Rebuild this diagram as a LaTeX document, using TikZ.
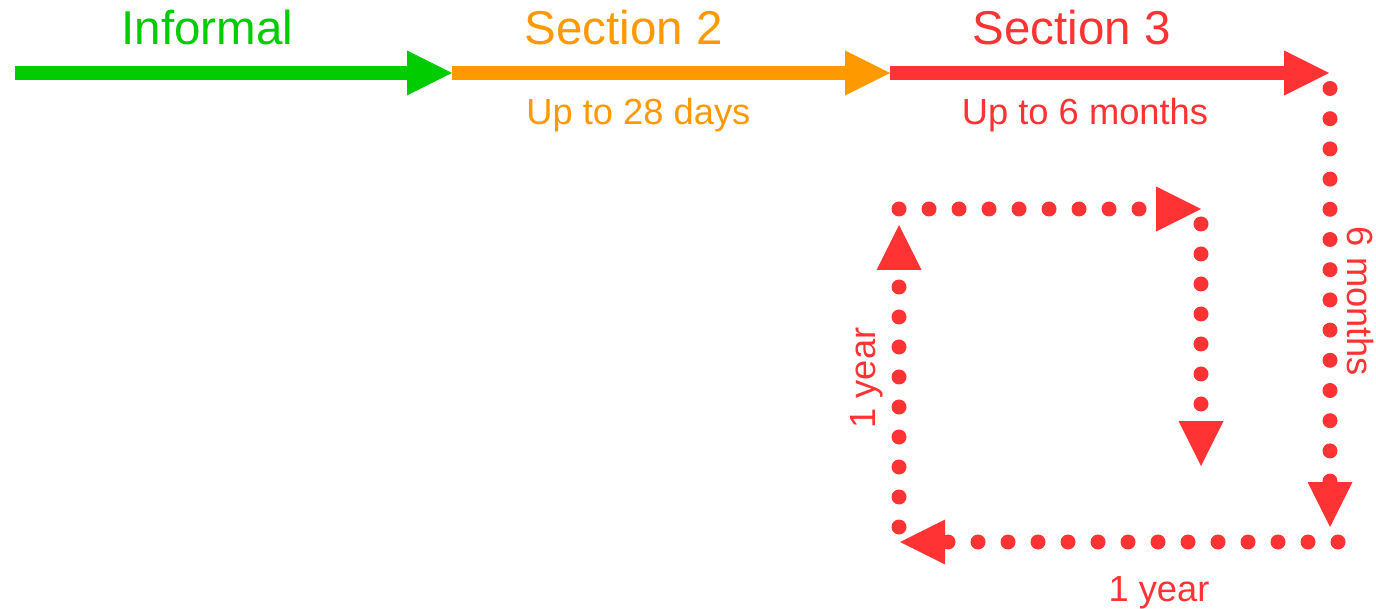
\documentclass[tikz,border=0pt]{standalone}
\usepackage{fontspec}
\setmainfont{Liberation Sans}
\usetikzlibrary{arrows.meta}
\definecolor{phgreen}{RGB}{0,204,0}
\definecolor{phorange}{RGB}{255,153,0}
\definecolor{phred}{RGB}{255,51,51}
\tikzset{
  big/.style={font=\fontsize{47.5}{57}\selectfont, inner sep=0pt, anchor=base},
  small/.style={font=\fontsize{36.3}{43}\selectfont, inner sep=0pt, anchor=base},
  stage/.style={line width=14pt, -{Triangle[length=45pt,width=45pt,line width=0pt]}},
  dotline/.style={phred, line width=15pt, line cap=round, dash pattern=on 0pt off 30pt,
    -{Triangle[length=45pt,width=45pt,line width=0pt]}}
}
\begin{document}
\begin{tikzpicture}[x=1pt,y=-1pt]
\useasboundingbox (0,0) rectangle (1376,609);

% stage boundaries on the main timeline
\coordinate (t0) at (15,73);
\coordinate (t1) at (452,73);
\coordinate (t2) at (890,73);
\coordinate (t3) at (1329,73);

\draw[stage, phgreen] (t0) -- (t1);
\draw[stage, phorange] (t1) -- (t2);
\draw[stage, phred] (t2) -- (t3);

% labels
\node[big, phgreen] (lInf) at (207.4,45) {Informal};
\node[big, phorange] (lS2) at (623.5,45) {Section 2};
\node[big, phred] (lS3) at (1071.5,45) {Section 3};
\node[small, phorange] (d28) at (638.4,124.3) {Up to 28 days};
\node[small, phred] (m6) at (1085,124.3) {Up to 6 months};

% renewal cycle
\coordinate (a0) at (1330,88.5);
\coordinate (a1) at (1330,527);
\coordinate (b0) at (1338,542);
\coordinate (b1) at (900,542);
\coordinate (c0) at (899,527);
\coordinate (c1) at (899,225);
\coordinate (d0) at (899,209);
\coordinate (d1) at (1201,209);
\coordinate (e0) at (1201,224);
\coordinate (e1) at (1201,466);

\draw[dotline, dash pattern=on 0pt off 30.2pt] (a0) -- (a1);
\draw[dotline] (b0) -- (b1);
\draw[dotline] (c0) -- (c1);
\draw[dotline] (d0) -- (d1);
\draw[dotline] (e0) -- (e1);

\node[small, phred, rotate=-90] (r6) at (1347,301.5) {6 months};
\node[small, phred] (y1b) at (1159,601.7) {1 year};
\node[small, phred, rotate=90] (y1l) at (875,378) {1 year};
\end{tikzpicture}
\end{document}
